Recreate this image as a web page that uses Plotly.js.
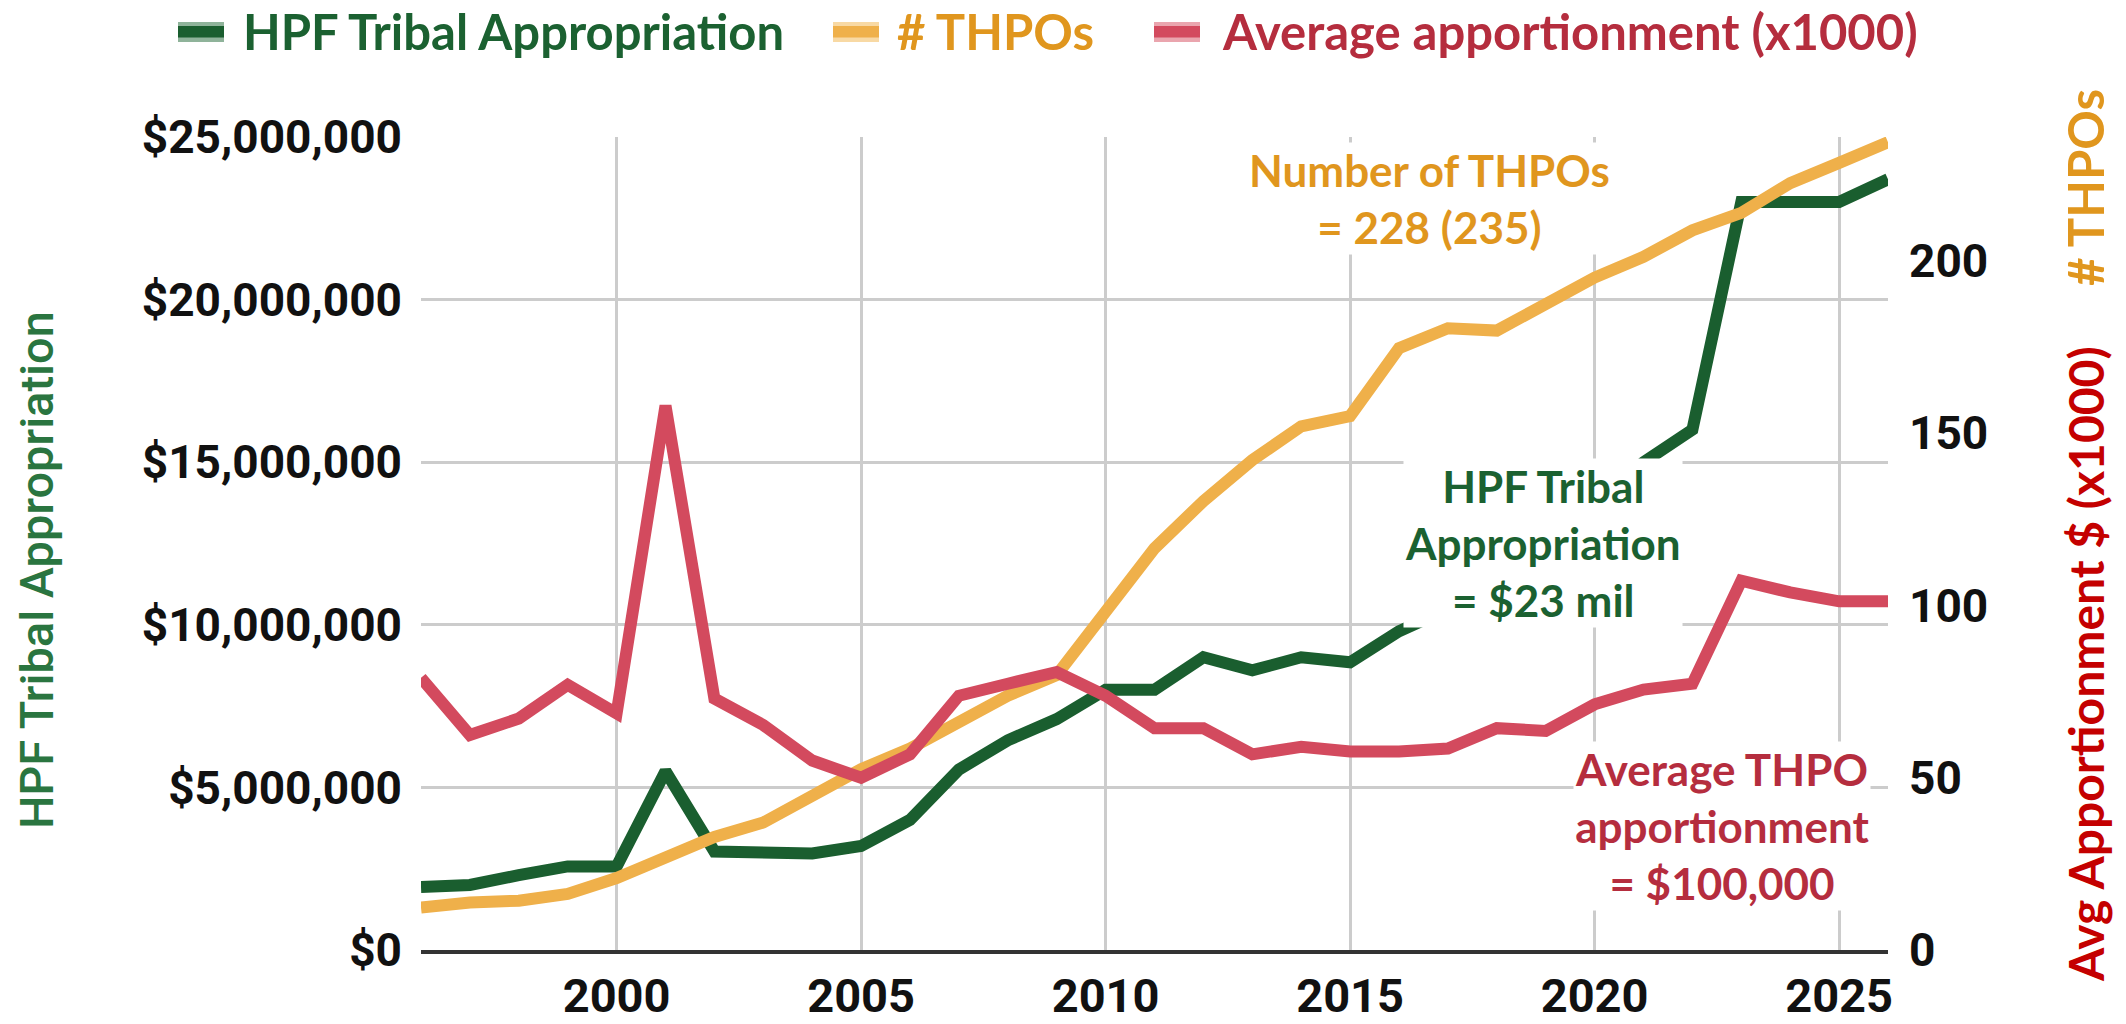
<!DOCTYPE html>
<html>
<head>
<meta charset="utf-8">
<script src="https://cdn.plot.ly/plotly-3.0.1.min.js"></script>
<style>
html, body { margin: 0; padding: 0; background: #ffffff; }
#chart { width: 2126px; height: 1024px; }
</style>
</head>
<body>
<div id="chart"></div>
<script>
// ---------------- DATA ----------------
const years = [1996, 1997, 1998, 1999, 2000, 2001, 2002, 2003, 2004, 2005,
               2006, 2007, 2008, 2009, 2010, 2011, 2012, 2013, 2014, 2015,
               2016, 2017, 2018, 2019, 2020, 2021, 2022, 2023, 2024, 2025, 2026];

// HPF Tribal Appropriation (US$)
const hpfAppropriation = [1940000, 2000000, 2300000, 2570000, 2570000, 5500000, 3030000, 3030000, 2970000, 3200000,
                          4000000, 5550000, 6450000, 7100000, 8000000, 8000000, 9000000, 8600000, 9000000, 8850000,
                          9800000, 10485000, 11735000, 11735000, 13735000, 15000000, 16000000, 23000000, 23000000, 23000000, 23700000];

// Number of THPOs
const thpoCount = [12.3, 13.8, 14.3, 16.3, 20.9, 26.5, 32.8, 37, 44.8, 52.5,
                   58.5, 66.2, 73.8, 79.8, 97.8, 116.6, 130.3, 142.2, 152, 155,
                   174.7, 180.5, 179.8, 187.5, 195.2, 201.2, 208.9, 214, 222.6, 228.5, 234.5];

// Average apportionment per THPO (x1000 US$)
const avgApportionment = [79, 62.4, 67.2, 77, 68.7, 158, 73, 65.3, 55, 50,
                          56.8, 73.8, 77.3, 80.7, 73.8, 64.4, 64.4, 56.8, 59, 57.6,
                          57.6, 58.5, 64.4, 63.6, 71.3, 75.6, 77.3, 107.2, 103.8, 101.2, 101.2];

const seriesNames = ['HPF Tribal Appropriation', '# THPOs', 'Average apportionment (x1000)'];
const xTickValues = [2000, 2005, 2010, 2015, 2020, 2025];
const leftTickValues = [0, 5000000, 10000000, 15000000, 20000000, 25000000];
const rightTickValues = [0, 50, 100, 150, 200];

// ---------------- STYLE ----------------
const GREEN = '#1a5e2f', ORANGE = '#efb04a', RED = '#d34a5e';
const GREEN_LT = '#8fb39a', ORANGE_LT = '#f8d9a4', RED_LT = '#eaa5ae';
const GREEN_TXT = '#1b6131', ORANGE_TXT = '#e0961e', RED_TXT = '#b52d3e';
const CALLOUT = 'Lato, "Open Sans", sans-serif';
const TICKFONT = 'Roboto, sans-serif';

// plot-area geometry (pixels)
const W = 2126, H = 1024;
const M = { l: 421, r: 238, t: 137, b: 74, autoexpand: false };
const PW = W - M.l - M.r, PH = H - M.t - M.b;
const px = x => (x - M.l) / PW;
const py = y => (H - M.b - y) / PH;

const lineColors = [GREEN, ORANGE, RED];
const lightColors = [GREEN_LT, ORANGE_LT, RED_LT];
const textColors = [GREEN_TXT, ORANGE_TXT, RED_TXT];
const seriesValues = [hpfAppropriation, thpoCount, avgApportionment];
const seriesAxes = ['y', 'y2', 'y2'];

const traces = seriesValues.map((vals, i) => ({
  x: years, y: vals, name: seriesNames[i], type: 'scatter', mode: 'lines',
  line: { color: lineColors[i], width: 12 }, yaxis: seriesAxes[i], showlegend: false
}));

// legend (drawn as swatches + texts)
const legendSwatchX = [178, 833, 1154];
const legendTextX = [241, 895, 1220];
const shapes = [];
const legendAnn = [];
for (let i = 0; i < 3; i++) {
  shapes.push({ type: 'rect', xref: 'paper', yref: 'paper', layer: 'above',
    x0: px(legendSwatchX[i]), x1: px(legendSwatchX[i] + 46), y0: py(42), y1: py(22),
    fillcolor: lightColors[i], line: { width: 0 } });
  shapes.push({ type: 'rect', xref: 'paper', yref: 'paper', layer: 'above',
    x0: px(legendSwatchX[i]), x1: px(legendSwatchX[i] + 46), y0: py(37.5), y1: py(26),
    fillcolor: lineColors[i], line: { width: 0 } });
  legendAnn.push({ xref: 'paper', yref: 'paper', x: px(legendTextX[i]), y: py(31),
    xanchor: 'left', yanchor: 'middle', showarrow: false, text: seriesNames[i],
    font: { family: CALLOUT, size: 49, color: textColors[i], weight: 700 } });
}

const layout = {
  width: W, height: H,
  margin: M,
  paper_bgcolor: '#ffffff', plot_bgcolor: '#ffffff',
  showlegend: false,
  xaxis: {
    range: [1996, 2026], tickvals: xTickValues, ticks: '',
    showgrid: true, gridcolor: '#cccccc', gridwidth: 3,
    showline: true, linecolor: '#333333', linewidth: 4,
    zeroline: false, ticklabelstandoff: 2,
    tickfont: { family: TICKFONT, size: 47, color: '#111111', weight: 700 }
  },
  yaxis: {
    range: [0, 25000000], tickvals: leftTickValues, tickformat: '$,.0f', ticks: '',
    showgrid: true, gridcolor: '#cccccc', gridwidth: 3, zeroline: false,
    ticklabelstandoff: 18,
    tickfont: { family: TICKFONT, size: 46, color: '#111111', weight: 700 }
  },
  yaxis2: {
    overlaying: 'y', side: 'right', range: [0, 236], tickvals: rightTickValues, ticks: '',
    showgrid: false, zeroline: false, ticklabelstandoff: 20,
    tickfont: { family: TICKFONT, size: 46, color: '#111111', weight: 700 }
  },
  shapes: shapes,
  annotations: legendAnn.concat([
    { xref: 'paper', yref: 'paper', x: px(1429), y: py(199), xanchor: 'center', yanchor: 'middle',
      showarrow: false, text: 'Number of THPOs<br>= 228 (235)', align: 'center',
      bgcolor: '#ffffff', borderpad: 1,
      font: { family: CALLOUT, size: 44, color: ORANGE_TXT, weight: 700 } },
    { xref: 'paper', yref: 'paper', x: px(1543), y: py(543), xanchor: 'center', yanchor: 'middle',
      showarrow: false, text: 'HPF Tribal<br>Appropriation<br>= $23 mil', align: 'center',
      bgcolor: '#ffffff', borderpad: 1,
      font: { family: CALLOUT, size: 44, color: GREEN_TXT, weight: 700 } },
    { xref: 'paper', yref: 'paper', x: px(1722), y: py(826), xanchor: 'center', yanchor: 'middle',
      showarrow: false, text: 'Average THPO<br>apportionment<br>= $100,000', align: 'center',
      bgcolor: '#ffffff', borderpad: 1,
      font: { family: CALLOUT, size: 44, color: RED_TXT, weight: 700 } },
    { xref: 'paper', yref: 'paper', x: px(36), y: py(570), xanchor: 'center', yanchor: 'middle',
      showarrow: false, textangle: -90, text: 'HPF Tribal Appropriation',
      font: { family: TICKFONT, size: 47, color: '#2a7540', weight: 500 } },
    { xref: 'paper', yref: 'paper', x: px(2085), y: py(188), xanchor: 'center', yanchor: 'middle',
      showarrow: false, textangle: -90, text: '# THPOs',
      font: { family: CALLOUT, size: 49, color: ORANGE_TXT, weight: 700 } },
    { xref: 'paper', yref: 'paper', x: px(2085), y: py(664), xanchor: 'center', yanchor: 'middle',
      showarrow: false, textangle: -90, text: 'Avg Apportionment $ (x1000)',
      font: { family: CALLOUT, size: 48, color: '#c40000', weight: 700 } }
  ])
};

Plotly.newPlot('chart', traces, layout, { displayModeBar: false, staticPlot: true });
</script>
</body>
</html>
